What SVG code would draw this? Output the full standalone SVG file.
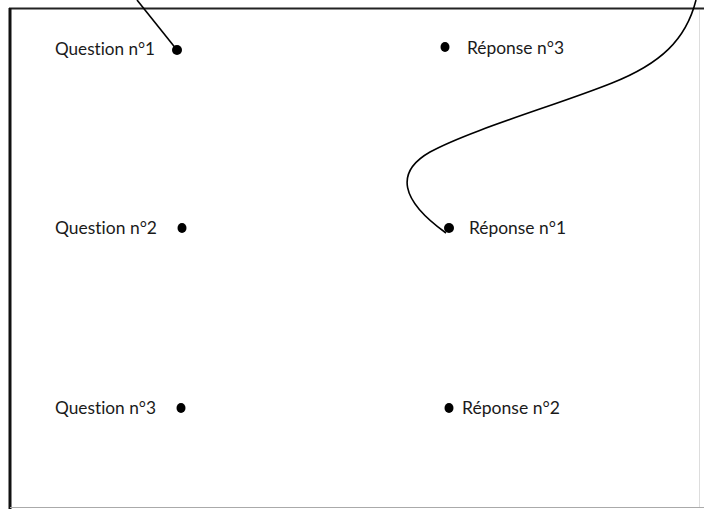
<svg xmlns="http://www.w3.org/2000/svg" width="704" height="509" viewBox="0 0 704 509">
<style>
.lbl{font-family:Lato,"Open Sans","Liberation Sans",sans-serif;font-size:17px;fill:#1a1a1a;font-variant-ligatures:none}
.dot{fill:#000}
.wire{fill:none;stroke:#000;stroke-width:1.6}
</style>
<rect width="704" height="509" fill="#fff"/>
<g id="frame">
<line x1="9" y1="8.5" x2="704" y2="8.5" stroke="#222" stroke-width="2"/>
<line x1="10" y1="8" x2="10" y2="509" stroke="#111" stroke-width="3"/>
<line x1="10" y1="507.5" x2="704" y2="507.5" stroke="#aaa" stroke-width="1"/>
<line x1="699.5" y1="10" x2="699.5" y2="507" stroke="#ddd" stroke-width="1"/>
</g>
<g id="connectors">
<path class="wire" d="M137,0 L177,50"/>
<path class="wire" d="M696,0 C686,40 660,64 612,83 C560,104 470,130 430,152 C395,172 400,200 446,233"/>
</g>
<g id="q1"><text class="lbl" x="55" y="55" textLength="100" lengthAdjust="spacingAndGlyphs">Question n°1</text><ellipse class="dot" cx="177" cy="50" rx="5" ry="5"/></g>
<g id="q2"><text class="lbl" x="55" y="234" textLength="102" lengthAdjust="spacingAndGlyphs">Question n°2</text><ellipse class="dot" cx="182" cy="228" rx="4.5" ry="5"/></g>
<g id="q3"><text class="lbl" x="55" y="414" textLength="101" lengthAdjust="spacingAndGlyphs">Question n°3</text><ellipse class="dot" cx="181" cy="408" rx="4.5" ry="5"/></g>
<g id="r3"><ellipse class="dot" cx="445" cy="47" rx="4.5" ry="5"/><text class="lbl" x="467" y="54" textLength="97" lengthAdjust="spacingAndGlyphs">Réponse n°3</text></g>
<g id="r1"><ellipse class="dot" cx="449" cy="228" rx="5" ry="5"/><text class="lbl" x="469" y="234" textLength="97" lengthAdjust="spacingAndGlyphs">Réponse n°1</text></g>
<g id="r2"><ellipse class="dot" cx="449" cy="408" rx="4.5" ry="5"/><text class="lbl" x="462" y="414" textLength="98" lengthAdjust="spacingAndGlyphs">Réponse n°2</text></g>
</svg>
